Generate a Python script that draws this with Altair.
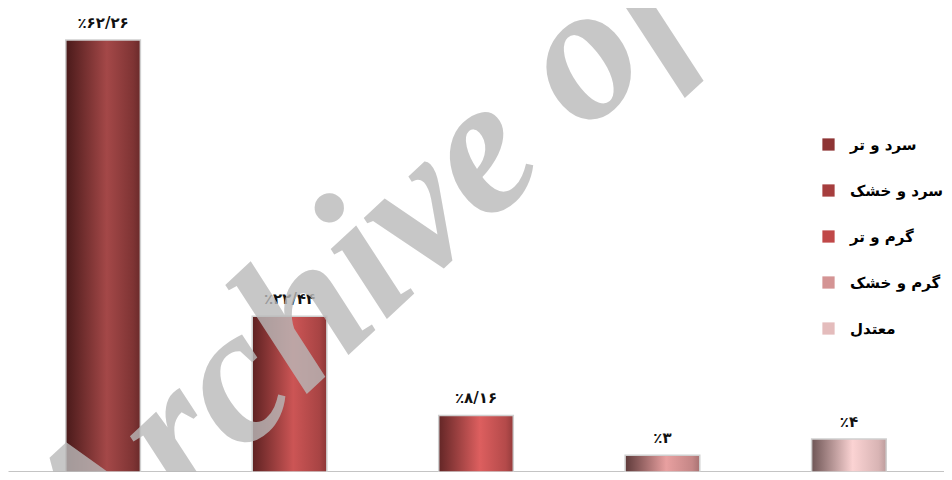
import altair as alt
import pandas as pd

# ---- data ----
categories = ["سرد و تر", "سرد و خشک", "گرم و تر", "گرم و خشک", "معتدل"]
values = [62.26, 22.44, 8.16, 2.4, 4.75]          # bar heights as drawn
value_labels = ["٪۶۲/۲۶", "٪۲۲/۴۴", "٪۸/۱۶", "٪۳", "٪۴"]

legend_colors = ["#8e3434", "#a63e3e", "#c04848", "#d49494", "#e4bcbc"]
gradients = [
    ["#4a1a1a", "#a44848", "#7f3434", "#6a2a2a"],
    ["#5e2222", "#cc5555", "#a84444", "#8c3636"],
    ["#632626", "#dd5f5f", "#b44a4a", "#943c3c"],
    ["#5e3a3a", "#e8a0a0", "#c48686", "#a87272"],
    ["#6e5555", "#fbd3d3", "#d8b4b4", "#bc9c9c"],
]

df = pd.DataFrame({"cat": categories, "value": values, "label": value_labels})

x_enc = alt.X(
    "cat:N",
    sort=categories,
    scale=alt.Scale(paddingInner=0.6, paddingOuter=0.31),
    axis=alt.Axis(labels=False, ticks=False, title=None, domainColor="#8a8a8a",
                  domainWidth=2, grid=False),
)
y_enc = alt.Y("value:Q", scale=alt.Scale(domain=[0, 66.87], nice=False, zero=True),
              axis=None)

base = alt.Chart(df)

bars = base.mark_bar().encode(
    x=x_enc,
    y=y_enc,
    color=alt.Color(
        "cat:N",
        sort=categories,
        scale=alt.Scale(domain=categories, range=legend_colors),
        legend=alt.Legend(
            title=None, orient="none", legendX=813, legendY=129,
            symbolType="square", symbolSize=150, symbolStrokeWidth=0,
            labelFont="DejaVu Sans", labelFontWeight="bold", labelFontSize=15,
            labelColor="#000000", labelOffset=14, rowPadding=30, padding=0,
            labelLimit=300,
        ),
    ),
)

layers = [bars]
for c, g in zip(categories, gradients):
    layers.append(
        base.transform_filter(alt.datum.cat == c).mark_bar(
            color=alt.Gradient(
                gradient="linear", x1=0, x2=1, y1=0, y2=0,
                stops=[
                    alt.GradientStop(offset=0, color=g[0]),
                    alt.GradientStop(offset=0.55, color=g[1]),
                    alt.GradientStop(offset=0.9, color=g[2]),
                    alt.GradientStop(offset=1, color=g[3]),
                ],
            ),
            stroke="#cfcfcf", strokeWidth=1.5,
        ).encode(x=x_enc, y=y_enc)
    )

text = base.mark_text(
    font="DejaVu Sans", fontWeight="bold", fontSize=15, color="#111111",
    baseline="alphabetic", dy=-12,
).encode(x=x_enc, y=y_enc, text="label:N")
layers.append(text)

wm = alt.Chart(pd.DataFrame({"t": ["Archive of SID"]})).mark_text(
    font="Liberation Serif", fontStyle="italic", fontWeight="bold", fontSize=195,
    color="#bababa", opacity=0.8, angle=317, align="left", baseline="alphabetic",
).encode(x=alt.value(82), y=alt.value(588), text="t:N")
layers.append(wm)

chart = alt.layer(*layers).properties(
    width=936, height=464,
    autosize=alt.AutoSizeParams(type="none"),
    padding=0,
).configure_view(stroke=None)

chart.save("out.html", embed_options={"renderer": "svg", "actions": False})
